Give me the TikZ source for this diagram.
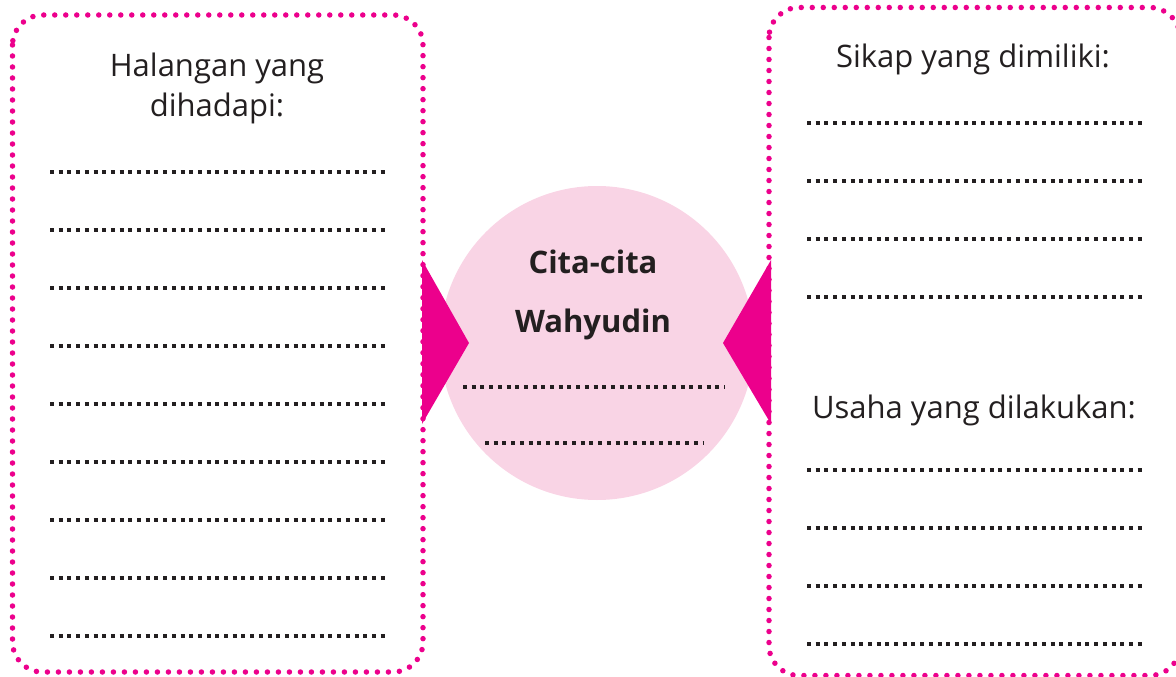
\documentclass[tikz,border=0pt]{standalone}
\usepackage{fontspec}
\setmainfont{Open Sans}

\definecolor{pinkdot}{HTML}{EC008C}
\definecolor{pinklight}{HTML}{F9D4E5}
\definecolor{ink}{HTML}{231F20}

\tikzset{
	pinkbox/.style={draw=pinkdot, line width=5.5pt, line cap=round, dash pattern=on 0pt off 11pt, rounded corners=30pt},
	blank/.style={draw=ink, line width=4pt, dash pattern=on 4pt off 4.7pt},
	head/.style={text=ink, anchor=base, inner sep=0pt, font=\fontsize{31}{38}\selectfont},
	cita/.style={head, font=\fontsize{31}{38}\selectfont\bfseries}
}

\begin{document}
\begin{tikzpicture}[x=1pt,y=-1pt]

\useasboundingbox (0,0) rectangle (1176,677);

\fill[pinklight] (597,343) circle (157);

\draw[pinkbox] (12.5,15) rectangle (423,672);
\draw[pinkbox] (769,7.5) rectangle (1180,675.5);

\fill[pinkdot] (422,260) -- (469,343) -- (422,424) -- cycle;
\fill[pinkdot] (771,260) -- (723,343) -- (771,424) -- cycle;

\node[head] (halangan) at (217,77)	{Halangan yang};
\node[head] (dihadapi) at (217,117)	{dihadapi:};

\node[head] (sikap) at (973,68)		{Sikap yang dimiliki:};
\node[head] (usaha) at (974,418)	{Usaha yang dilakukan:};

\node[cita] (cita) at (593,273)		{Cita-cita};
\node[cita] (nama) at (593,332)		{Wahyudin};

\foreach \y in {172,230,...,636}
	\path[blank] (50,\y) -- (386,\y);

\foreach \y in {123,181,239,297,470,528,586,644}
	\path[blank] (807,\y) -- (1142,\y);

\path[blank] (463,387) -- (725,387);
\path[blank] (485,443) -- (703,443);

\end{tikzpicture}
\end{document}
